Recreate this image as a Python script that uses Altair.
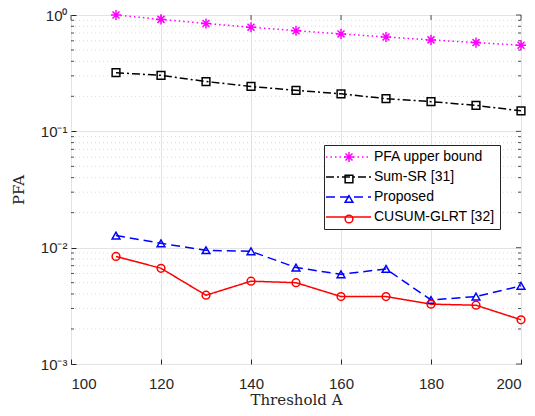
import altair as alt
import pandas as pd

thresholds = [110, 120, 130, 140, 150, 160, 170, 180, 190, 200]
pfa_bound = [1.0, 0.917, 0.846, 0.786, 0.733, 0.688, 0.647, 0.611, 0.579, 0.55]
sum_sr = [0.319, 0.303, 0.268, 0.243, 0.225, 0.210, 0.191, 0.180, 0.167, 0.150]
proposed = [0.0127, 0.0109, 0.0095, 0.0093, 0.00675, 0.0059, 0.00656, 0.00355, 0.0038, 0.0047]
cusum = [0.0084, 0.00665, 0.0039, 0.00515, 0.0050, 0.0038, 0.0038, 0.00327, 0.0032, 0.0024]

series_names = ["PFA upper bound", "Sum-SR [31]", "Proposed", "CUSUM-GLRT [32]"]
colors = ["#ff00ff", "#000000", "#0000ff", "#ff0000"]
dashes = [[1.5, 3], [8, 3, 2, 3], [9, 5], [1, 0]]
asterisk = "M0,-1.3L0,1.3M-1.3,0L1.3,0M-0.9,-0.9L0.9,0.9M-0.9,0.9L0.9,-0.9"
shapes = [asterisk, "square", "triangle-up", "circle"]

x_ticks = [100, 120, 140, 160, 180, 200]
y_major = [0.001, 0.01, 0.1, 1.0]
y_minor = [0.002, 0.003, 0.004, 0.005, 0.006, 0.007, 0.008, 0.009,
           0.02, 0.03, 0.04, 0.05, 0.06, 0.07, 0.08, 0.09,
           0.2, 0.3, 0.4, 0.5, 0.6, 0.7, 0.8, 0.9]

rows = []
for name, vals in zip(series_names, [pfa_bound, sum_sr, proposed, cusum]):
    for t, v in zip(thresholds, vals):
        rows.append({"A": t, "PFA": v, "series": name})
df = pd.DataFrame(rows)
minor_df = pd.DataFrame({"PFA": y_minor})
major_df = pd.DataFrame({"PFA": y_major})
xtick_df = pd.DataFrame({"A": x_ticks})

W, H = 450, 349
xscale = alt.Scale(domain=[100, 200], nice=False)
yscale = alt.Scale(type="log", domain=[0.001, 1], nice=False)

label_font = "Liberation Sans"
title_font = "DejaVu Serif"
ink = "#262626"

x_axis = alt.Axis(values=x_ticks, grid=True, gridColor="#e3e3e3",
                  domain=False, tickColor=ink, tickSize=5, offset=-5,
                  labelPadding=12, labelFont=label_font, labelFontSize=15,
                  labelColor=ink, titleFont=title_font,
                  titleFontSize=15, titleFontWeight="normal",
                  titleColor=ink, titlePadding=1)
y_axis = alt.Axis(values=y_major, grid=True, gridColor="#e3e3e3",
                  domain=False, tickColor=ink, tickSize=5, offset=-5,
                  labelPadding=4, labelFont=label_font, labelFontSize=15,
                  labelColor=ink,
                  labelExpr="datum.value >= 1 ? '10⁰' : datum.value >= 0.1 ? '10⁻¹' : datum.value >= 0.01 ? '10⁻²' : '10⁻³'",
                  titleFont=title_font, titleFontSize=15,
                  titleFontWeight="normal", titleColor=ink,
                  titlePadding=14)

X = alt.X("A:Q", scale=xscale, title="Threshold A", axis=x_axis)
Y = alt.Y("PFA:Q", scale=yscale, title="PFA", axis=y_axis)

minor_grid = alt.Chart(minor_df).mark_rule(
    color="#d0d0d0", strokeWidth=0.8, strokeDash=[1, 3]
).encode(y=Y, x=alt.value(0), x2=alt.value(W))

minor_ticks_l = alt.Chart(minor_df).mark_rule(color=ink, strokeWidth=0.8).encode(
    y=Y, x=alt.value(0), x2=alt.value(3))
minor_ticks_r = alt.Chart(minor_df).mark_rule(color=ink, strokeWidth=0.8).encode(
    y=Y, x=alt.value(W - 3), x2=alt.value(W))
major_ticks_r = alt.Chart(major_df).mark_rule(color=ink, strokeWidth=0.8).encode(
    y=Y, x=alt.value(W - 5), x2=alt.value(W))
x_ticks_top = alt.Chart(xtick_df).mark_rule(color=ink, strokeWidth=0.8).encode(
    x=X, y=alt.value(0), y2=alt.value(5))

lines = alt.Chart(df).mark_line(strokeWidth=1.5).encode(
    x=X,
    y=Y,
    color=alt.Color("series:N", scale=alt.Scale(domain=series_names, range=colors),
                    legend=alt.Legend(title=None, orient="none", legendX=253, legendY=130,
                                      symbolType="M-1.67,0H5.83", symbolSize=144,
                                      symbolStrokeWidth=1.5, labelFont=label_font,
                                      labelFontSize=14, labelColor="#000000",
                                      strokeColor=ink, fillColor="#ffffff",
                                      padding=5, rowPadding=6, labelOffset=31)),
    strokeDash=alt.StrokeDash("series:N", scale=alt.Scale(domain=series_names, range=dashes)),
)

points = alt.Chart(df).transform_calculate(s2="datum.series").mark_point(
    filled=False, strokeWidth=1.5, size=60, opacity=1
).encode(
    x=X,
    y=Y,
    color=alt.Color("s2:N", scale=alt.Scale(domain=series_names, range=colors),
                    legend=alt.Legend(title=None, orient="none", legendX=266, legendY=130,
                                      symbolSize=60, symbolStrokeWidth=1.5,
                                      labelFont=label_font, labelFontSize=14,
                                      labelExpr="' '", padding=5, rowPadding=6,
                                      labelOffset=20)),
    shape=alt.Shape("s2:N", scale=alt.Scale(domain=series_names, range=shapes)),
)

chart = alt.layer(
    minor_grid, minor_ticks_l, minor_ticks_r, major_ticks_r, x_ticks_top, lines, points
).resolve_scale(
    color="independent", shape="independent", strokeDash="independent"
).resolve_legend(color="independent", shape="independent").properties(
    width=W, height=H,
    padding={"left": 63, "top": 7, "right": 6, "bottom": 44},
    autosize=alt.AutoSizeParams(type="none"),
    background="#ffffff",
).configure_view(stroke=ink, strokeWidth=1)

chart.save("out.html", embed_options={"renderer": "svg", "actions": False})
